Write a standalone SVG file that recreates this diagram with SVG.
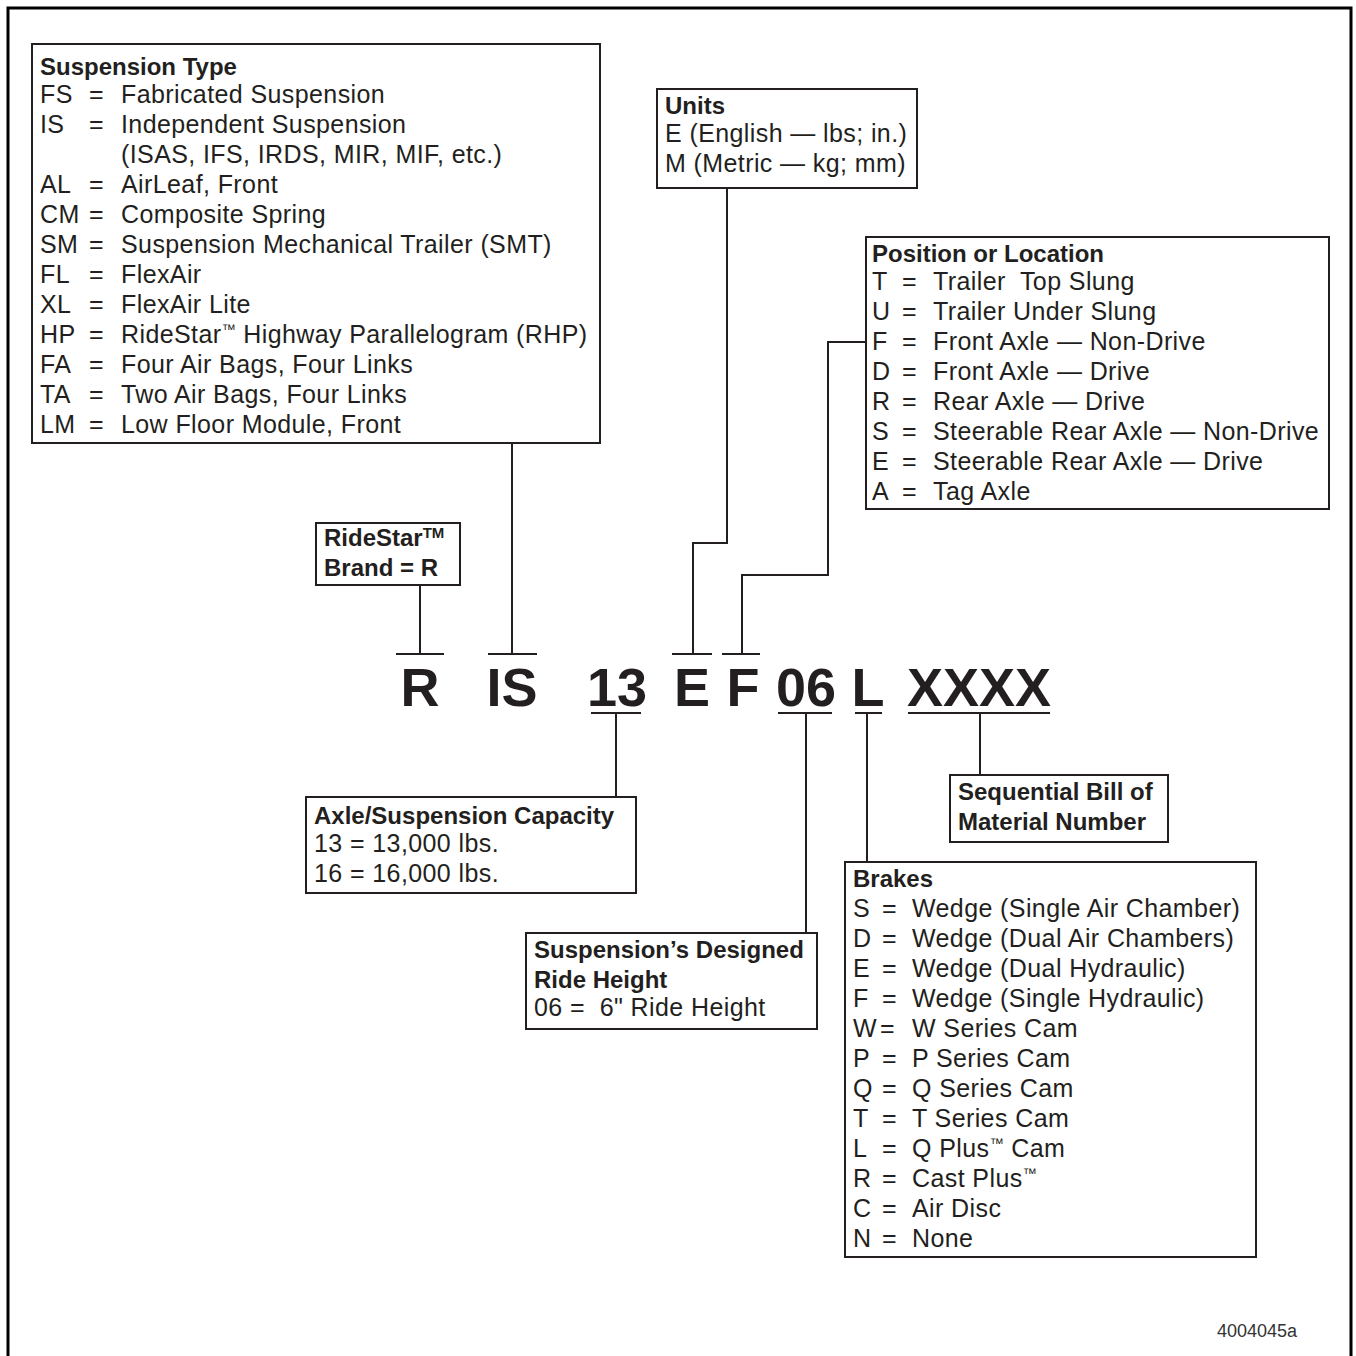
<svg xmlns="http://www.w3.org/2000/svg" width="1356" height="1356" viewBox="0 0 1356 1356">
<style>
text{font-family:"Liberation Sans",Arial,sans-serif;fill:#231f20}
.t{font-size:25px;letter-spacing:0.4px}
.h{font-size:24px;font-weight:bold}
.code{font-size:54px;font-weight:bold;text-anchor:middle}
.box{fill:#fff;stroke:#231f20;stroke-width:2}
.ln{fill:none;stroke:#231f20;stroke-width:2}
.fig{font-size:18px;fill:#333}
</style>
<rect width="1356" height="1356" fill="#fff"/>
<path d="M8,1356 V8 H1351 V1356" fill="none" stroke="#000" stroke-width="3"/>

<g id="connectors">
<path class="ln" d="M396,654 H444 M420,654 V585"/>
<path class="ln" d="M488,654 H537 M512,654 V443"/>
<path class="ln" d="M672,654 H712 M693,654 V543 H727 V188"/>
<path class="ln" d="M722,654 H760 M742,654 V575 H828 V342 H866"/>
<path class="ln" d="M591,713 H641 M616,713 V797"/>
<path class="ln" d="M778,713 H832 M806,713 V933"/>
<path class="ln" d="M855,713 H882 M867,713 V862"/>
<path class="ln" d="M908,713 H1050 M980,713 V775"/>
</g>

<g id="code">
<text class="code" x="420" y="706">R</text>
<text class="code" x="512" y="706">IS</text>
<text class="code" x="617" y="706">13</text>
<text class="code" x="692" y="706">E</text>
<text class="code" x="743" y="706">F</text>
<text class="code" x="806" y="706">06</text>
<text class="code" x="868" y="706">L</text>
<text class="code" x="979" y="706">XXXX</text>
</g>

<g id="suspension-type">
<rect class="box" x="32" y="44" width="568" height="399"/>
<text class="h" x="40" y="75">Suspension Type</text>
<g class="t">
<text x="40" y="103">FS</text><text x="89" y="103">=</text><text x="121" y="103">Fabricated Suspension</text>
<text x="40" y="133">IS</text><text x="89" y="133">=</text><text x="121" y="133">Independent Suspension</text>
<text x="121" y="163">(ISAS, IFS, IRDS, MIR, MIF, etc.)</text>
<text x="40" y="193">AL</text><text x="89" y="193">=</text><text x="121" y="193">AirLeaf, Front</text>
<text x="40" y="223">CM</text><text x="89" y="223">=</text><text x="121" y="223">Composite Spring</text>
<text x="40" y="253">SM</text><text x="89" y="253">=</text><text x="121" y="253">Suspension Mechanical Trailer (SMT)</text>
<text x="40" y="283">FL</text><text x="89" y="283">=</text><text x="121" y="283">FlexAir</text>
<text x="40" y="313">XL</text><text x="89" y="313">=</text><text x="121" y="313">FlexAir Lite</text>
<text x="40" y="343">HP</text><text x="89" y="343">=</text><text x="121" y="343">RideStar<tspan font-size="14" dy="-9">™</tspan><tspan dy="9"> Highway Parallelogram (RHP)</tspan></text>
<text x="40" y="373">FA</text><text x="89" y="373">=</text><text x="121" y="373">Four Air Bags, Four Links</text>
<text x="40" y="403">TA</text><text x="89" y="403">=</text><text x="121" y="403">Two Air Bags, Four Links</text>
<text x="40" y="433">LM</text><text x="89" y="433">=</text><text x="121" y="433">Low Floor Module, Front</text>
</g>
</g>

<g id="units">
<rect class="box" x="657" y="89" width="260" height="99"/>
<text class="h" x="665" y="114">Units</text>
<text class="t" x="665" y="142">E (English — lbs; in.)</text>
<text class="t" x="665" y="172">M (Metric — kg; mm)</text>
</g>

<g id="brand">
<rect class="box" x="316" y="523" width="144" height="62"/>
<text class="h" x="324" y="546">RideStar<tspan font-size="15" dy="-8">TM</tspan></text>
<text class="h" x="324" y="576">Brand = R</text>
</g>

<g id="position">
<rect class="box" x="866" y="237" width="463" height="272"/>
<text class="h" x="872" y="262">Position or Location</text>
<g class="t">
<text x="872" y="290">T</text><text x="902" y="290">=</text><text x="933" y="290" xml:space="preserve">Trailer  Top Slung</text>
<text x="872" y="320">U</text><text x="902" y="320">=</text><text x="933" y="320">Trailer Under Slung</text>
<text x="872" y="350">F</text><text x="902" y="350">=</text><text x="933" y="350">Front Axle — Non-Drive</text>
<text x="872" y="380">D</text><text x="902" y="380">=</text><text x="933" y="380">Front Axle — Drive</text>
<text x="872" y="410">R</text><text x="902" y="410">=</text><text x="933" y="410">Rear Axle — Drive</text>
<text x="872" y="440">S</text><text x="902" y="440">=</text><text x="933" y="440">Steerable Rear Axle — Non-Drive</text>
<text x="872" y="470">E</text><text x="902" y="470">=</text><text x="933" y="470">Steerable Rear Axle — Drive</text>
<text x="872" y="500">A</text><text x="902" y="500">=</text><text x="933" y="500">Tag Axle</text>
</g>
</g>

<g id="capacity">
<rect class="box" x="306" y="797" width="330" height="96"/>
<text class="h" x="314" y="824">Axle/Suspension Capacity</text>
<text class="t" x="314" y="852">13 = 13,000 lbs.</text>
<text class="t" x="314" y="882">16 = 16,000 lbs.</text>
</g>

<g id="ride-height">
<rect class="box" x="526" y="933" width="291" height="96"/>
<text class="h" x="534" y="958">Suspension’s Designed</text>
<text class="h" x="534" y="988">Ride Height</text>
<text class="t" x="534" y="1016" xml:space="preserve">06 =  6" Ride Height</text>
</g>

<g id="sequential">
<rect class="box" x="950" y="775" width="218" height="67"/>
<text class="h" x="958" y="800">Sequential Bill of</text>
<text class="h" x="958" y="830">Material Number</text>
</g>

<g id="brakes">
<rect class="box" x="845" y="862" width="411" height="395"/>
<text class="h" x="853" y="887">Brakes</text>
<g class="t">
<text x="853" y="917">S</text><text x="882" y="917">=</text><text x="912" y="917">Wedge (Single Air Chamber)</text>
<text x="853" y="947">D</text><text x="882" y="947">=</text><text x="912" y="947">Wedge (Dual Air Chambers)</text>
<text x="853" y="977">E</text><text x="882" y="977">=</text><text x="912" y="977">Wedge (Dual Hydraulic)</text>
<text x="853" y="1007">F</text><text x="882" y="1007">=</text><text x="912" y="1007">Wedge (Single Hydraulic)</text>
<text x="853" y="1037">W</text><text x="880" y="1037">=</text><text x="912" y="1037">W Series Cam</text>
<text x="853" y="1067">P</text><text x="882" y="1067">=</text><text x="912" y="1067">P Series Cam</text>
<text x="853" y="1097">Q</text><text x="882" y="1097">=</text><text x="912" y="1097">Q Series Cam</text>
<text x="853" y="1127">T</text><text x="882" y="1127">=</text><text x="912" y="1127">T Series Cam</text>
<text x="853" y="1157">L</text><text x="882" y="1157">=</text><text x="912" y="1157">Q Plus<tspan font-size="14" dy="-9">™</tspan><tspan dy="9"> Cam</tspan></text>
<text x="853" y="1187">R</text><text x="882" y="1187">=</text><text x="912" y="1187">Cast Plus<tspan font-size="14" dy="-9">™</tspan></text>
<text x="853" y="1217">C</text><text x="882" y="1217">=</text><text x="912" y="1217">Air Disc</text>
<text x="853" y="1247">N</text><text x="882" y="1247">=</text><text x="912" y="1247">None</text>
</g>
</g>

<text class="fig" x="1217" y="1337">4004045a</text>
</svg>
